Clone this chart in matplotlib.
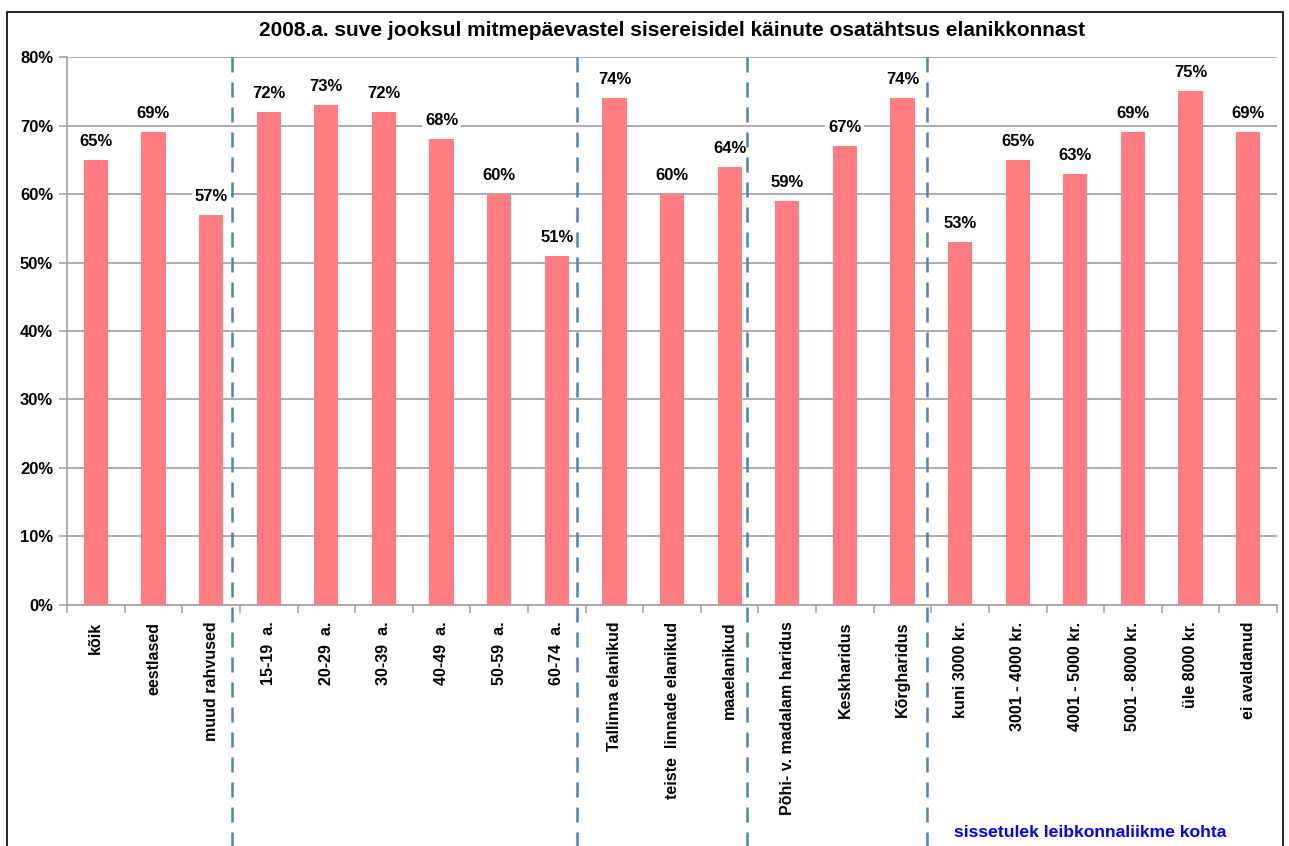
import matplotlib.pyplot as plt
from matplotlib.patches import Rectangle
from matplotlib.ticker import FixedLocator, PercentFormatter

# =========================
# DATA
# =========================
TITLE = "2008.a. suve jooksul mitmepäevastel sisereisidel käinute osatähtsus elanikkonnast"

categories = [
    "kõik", "eestlased", "muud rahvused",
    "15-19  a.", "20-29  a.", "30-39  a.", "40-49  a.", "50-59  a.", "60-74  a.",
    "Tallinna elanikud", "teiste  linnade elanikud", "maaelanikud",
    "Põhi- v. madalam haridus", "Keskharidus", "Kõrgharidus",
    "kuni 3000 kr.", "3001 - 4000 kr.", "4001 - 5000 kr.", "5001 - 8000 kr.",
    "üle 8000 kr.", "ei avaldanud",
]
values = [65, 69, 57, 72, 73, 72, 68, 60, 51, 74, 60, 64, 59, 67, 74, 53, 65, 63, 69, 75, 69]

# group separators (between category groups)
separators = [2.37, 8.35, 11.3, 14.43]
income_note = "sissetulek leibkonnaliikme kohta"

plt.rcParams['font.family'] = ['Liberation Sans', 'DejaVu Sans']


def main():
    fig = plt.figure(figsize=(12.89, 8.46), dpi=100)
    ax = fig.add_axes([0.052, 0.285, 0.9387, 0.6475])

    # outer chart frame
    fig.patches.append(Rectangle((7 / 1289, -0.01), 1276 / 1289, 1 - 12 / 846 + 0.01,
                                 transform=fig.transFigure, fill=False,
                                 edgecolor="black", linewidth=1.2))

    x = list(range(len(categories)))
    ax.bar(x, values, width=0.42, color="#FF7C80", zorder=3)

    for xi, v in zip(x, values):
        ax.text(xi, v + 1.6, f"{v}%", ha="center", va="bottom", fontsize=12,
                fontweight="bold", zorder=4,
                bbox=dict(facecolor="white", edgecolor="none", pad=2))

    ax.set_xlim(-0.5, len(categories) - 0.5)
    ax.set_ylim(0, 80)
    ax.yaxis.set_major_locator(FixedLocator(range(0, 81, 10)))
    ax.yaxis.set_major_formatter(PercentFormatter(decimals=0))
    ax.grid(axis="y", color="#A6A6A6", linewidth=1.3, zorder=1)

    ax.set_xticks(x)
    ax.set_xticklabels(categories, rotation=90, fontsize=11.5, fontweight="bold", va="top")
    ax.tick_params(axis="x", length=0, pad=12)
    ax.set_xticks([i + 0.5 for i in range(-1, len(categories))], minor=True)
    ax.tick_params(axis="x", which="minor", length=6, color="#A6A6A6", width=1.2)
    ax.tick_params(axis="y", length=6, color="#A6A6A6", width=1.2, labelsize=12, pad=4)
    for lbl in ax.get_yticklabels():
        lbl.set_fontweight("bold")

    for side in ["top", "right"]:
        ax.spines[side].set_visible(False)
    for side in ["left", "bottom"]:
        ax.spines[side].set_color("#A6A6A6")
        ax.spines[side].set_linewidth(1.3)

    # dashed separators running down to the bottom of the figure
    for s in separators:
        ax.plot([s, s], [80, -36], color="#4F81BD", linewidth=1.8,
                linestyle=(0, (6, 4)), clip_on=False, zorder=5)

    fig.text(0.521, 0.964, TITLE, ha="center", va="center", fontsize=15, fontweight="bold")
    fig.text(0.846, 0.016, income_note, ha="center", va="center", fontsize=12.6,
             fontweight="bold", color="#0000FF")

    fig.savefig("out.png", dpi=100)


if __name__ == "__main__":
    main()
